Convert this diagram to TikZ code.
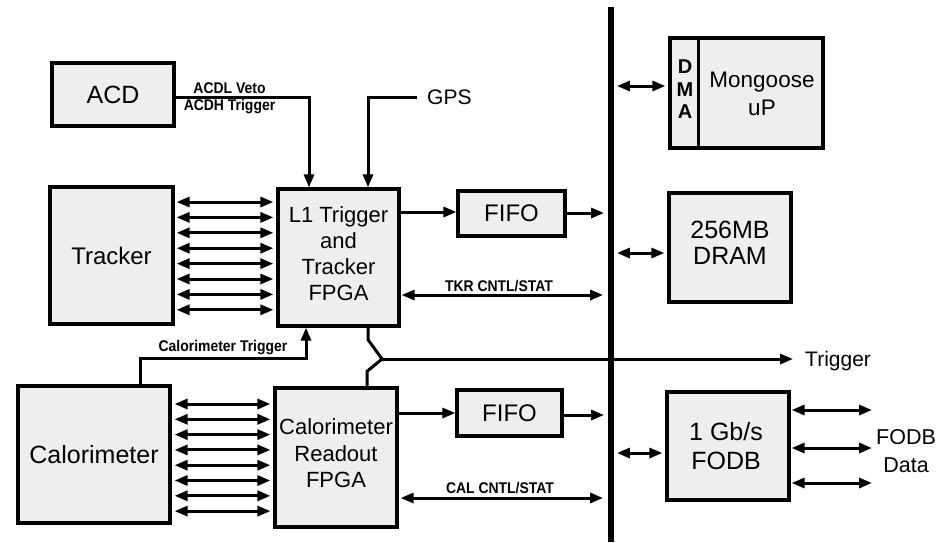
\documentclass[tikz,border=0pt]{standalone}
\usepackage{fontspec}
\setmainfont{Liberation Sans}
\newfontfamily\lblfont[FakeStretch=0.9]{Liberation Sans}
\usetikzlibrary{arrows.meta,calc}
\newcommand{\fs}[1]{\fontsize{#1}{#1}\selectfont}
\newcommand{\fsb}[2]{\fontsize{#1}{#2}\selectfont}
\tikzset{
  blk/.style={draw=black, line width=3.2pt, fill=gray!13, inner sep=0pt, align=center},
  conn/.style={line width=3pt},
  arr/.style={conn, -{Triangle[length=13pt,width=10pt]}},
  darr/.style={conn, {Triangle[length=13pt,width=10pt]}-{Triangle[length=13pt,width=10pt]}},
  lbl/.style={font=\lblfont\bfseries\fs{15.5}, inner sep=0pt},
  txt/.style={inner sep=0pt, align=center}
}
\begin{document}
\begin{tikzpicture}[x=1pt,y=-1pt]
\useasboundingbox (0,0) rectangle (948,542);
% boxes
\node[blk, minimum width=122pt, minimum height=63pt, font=\fs{25}] (acd) at (113,94.5) {ACD};
\node[blk, minimum width=123pt, minimum height=137pt, font=\fs{24}] (trk) at (111.5,255.5) {Tracker};
\node[blk, minimum width=121pt, minimum height=137pt] (l1) at (338.5,257.5) {};
\node[txt, font=\fsb{22}{26}] (l1t) at (338.5,254) {L1 Trigger\\and\\Tracker\\FPGA};
\node[blk, minimum width=107pt, minimum height=45pt, font=\fs{24}] (fifoa) at (511.5,213.5) {FIFO};
\node[blk, minimum width=152pt, minimum height=137pt, font=\fs{25}] (calo) at (94,454.5) {Calorimeter};
\node[blk, minimum width=122pt, minimum height=139pt] (calf) at (336,457.5) {};
\node[txt, font=\fsb{22}{26.5}] (calft) at (336,453.5) {Calorimeter\\Readout\\FPGA};
\node[blk, minimum width=105pt, minimum height=46pt, font=\fs{24}] (fifob) at (509.5,413) {FIFO};
\node[blk, minimum width=153pt, minimum height=110pt] (mong) at (746.5,93) {};
\draw[line width=3.2pt] ($(mong.north west)+(30,0)$) -- ($(mong.south west)+(30,0)$);
\node[txt, font=\bfseries\fsb{20}{22.5}] (dma) at (685,89.5) {D\\M\\A};
\node[txt, font=\fsb{22.5}{28}] (mongt) at (762,94) {Mongoose\\uP};
\node[blk, minimum width=122pt, minimum height=109pt] (dram) at (730,247.5) {};
\node[txt, font=\fsb{25}{26}] (dramt) at (730,243) {256MB\\DRAM};
\node[blk, minimum width=122pt, minimum height=108pt] (fodb) at (728,446) {};
\node[txt, font=\fsb{25}{29.5}] (fodbt) at (726,446) {1 Gb/s\\FODB};
% bus
\node[fill=black, inner sep=0pt, minimum width=5.5pt, minimum height=535pt] (bus) at (611,274.5) {};
% free texts
\node[txt, font=\fs{21}, anchor=west] (gps) at (427,97) {GPS};
\node[txt, font=\fs{21}, anchor=west] (trig) at (805,361) {Trigger};
\node[txt, font=\fsb{21.5}{28}] (fdata) at (906,451) {FODB\\Data};
\node[lbl] (acdl) at (229.5,88) {ACDL Veto};
\node[lbl] (acdh) at (229.5,107) {ACDH Trigger};
\node[lbl] (calt) at (223,348) {Calorimeter Trigger};
\node[lbl] (tkrl) at (499,286) {TKR CNTL/STAT};
\node[lbl] (call) at (500,488) {CAL CNTL/STAT};
% ACD and GPS to L1
\draw[arr] (acd.east |- 0,97) -| ($(l1.north)+(-29.5,0)$);
\draw[arr] ([xshift=-10pt]gps.west) -| ($(l1.north)+(29.5,0)$);
% tracker links
\foreach \y in {202,217.4,232.8,248.2,263.6,279,294.4,309.8}
  \draw[darr, shorten <=2pt, shorten >=3pt] (trk.east |- 0,\y) -- (l1.west |- 0,\y);
% calorimeter links
\foreach \y in {404,419.3,434.6,449.9,465.2,480.5,495.8,511.1}
  \draw[darr, shorten <=3pt, shorten >=3pt] (calo.east |- 0,\y) -- (calf.west |- 0,\y);
% calorimeter trigger
\draw[arr] (calo.north -| 140,0) |- ($(l1.south)+(-32.5,31)$) -- ($(l1.south)+(-32.5,0)$);
% FIFO paths
\draw[arr] (l1.east |- 0,212) -- (fifoa.west |- 0,212);
\draw[arr, shorten >=4pt] (fifoa.east |- 0,213) -- (bus.west |- 0,213);
\draw[arr] (calf.east |- 0,413) -- (fifob.west |- 0,413);
\draw[arr, shorten >=4pt] (fifob.east |- 0,415) -- (bus.west |- 0,415);
% control/status
\draw[darr, shorten >=5pt, shorten <=1pt] (l1.east |- 0,295) -- (bus.west |- 0,295);
\draw[darr, shorten >=5pt, shorten <=2pt] (calf.east |- 0,498) -- (bus.west |- 0,498);
% trigger merge
\coordinate (j) at (382,359);
\draw[conn, line join=miter] ($(l1.south)+(29.5,0)$) -- ++(0,12) -- (j);
\draw[conn, line join=miter] ($(calf.north)+(31,0)$) -- ++(0,-15) -- (j);
\draw[arr, shorten >=12pt] (j) -- (j -| trig.west);
% bus to right side
\draw[darr, shorten <=3pt, shorten >=3pt] (bus.east |- 0,86) -- (mong.west |- 0,86);
\draw[darr, shorten <=3pt, shorten >=3pt] (bus.east |- 0,253) -- (dram.west |- 0,253);
\draw[darr, shorten <=3pt, shorten >=3pt] (bus.east |- 0,453) -- (fodb.west |- 0,453);
% FODB data
\coordinate (fd1) at (872,410);
\coordinate (fd2) at (872,448);
\coordinate (fd3) at (872,483);
\draw[darr, shorten <=1pt] (fodb.east |- fd1) -- (fd1);
\draw[darr, shorten <=1pt] (fodb.east |- fd2) -- (fd2);
\draw[darr, shorten <=1pt] (fodb.east |- fd3) -- (fd3);
\end{tikzpicture}
\end{document}
